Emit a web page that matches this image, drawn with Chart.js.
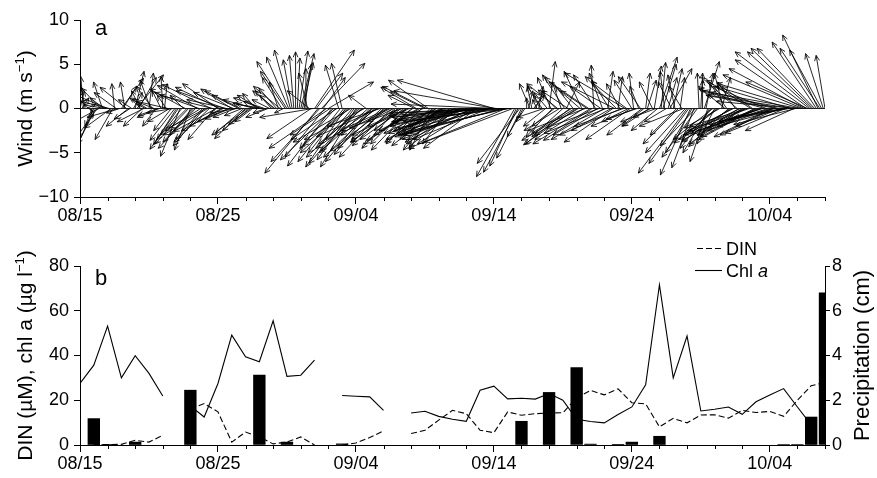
<!DOCTYPE html>
<html>
<head>
<meta charset="utf-8">
<script src="https://cdn.jsdelivr.net/npm/chart.js@4/dist/chart.umd.min.js"></script>
<style>
  html, body { margin: 0; padding: 0; background: #fff; }
  #wrap { position: relative; width: 877px; height: 478px; }
  #wind { position: absolute; left: 0; top: 0; width: 877px; height: 240px; }
  #water { position: absolute; left: 0; top: 240px; width: 877px; height: 238px; }
</style>
</head>
<body>
<div id="wrap">
  <canvas id="wind" width="877" height="240"></canvas>
  <canvas id="water" width="877" height="238"></canvas>
</div>
<script>
// ---- time axis ----
const dateLabels = ['08/15', '08/25', '09/04', '09/14', '09/24', '10/04'];
const dayCount = 54;              // 08/15 .. 10/08
const windStepDays = 0.125;       // 3-hourly wind record

// ---- wind components (m s-1), 8 readings per day, one row per day ----
const windU = [
  0.5, 0.8, -0.3, -0.5, 1.0, 0.5, 0.3, -0.8,
  -2.2, -2.0, -2.3, -2.8, -2.2, -1.0, -1.6, -2.5,
  -3.8, -3.2, -3.0, -2.0, -0.3, -2.5, -3.5, -1.5,
  2.5, 1.5, -0.5, -3.0, -2.5, -1.8, -1.5, 1.0,
  1.0, 3.0, 2.0, -1.0, -2.1, -3.0, -1.0, -2.0,
  0.5, -1.2, -1.8, -2.5, -1.5, -2.2, -2.5, -1.0,
  -0.2, 0.3, -1.0, -3.5, -2.5, -2.0, -3.0, -2.8,
  -2.6, -3.2, -2.2, -2.8, -1.5, -4.0, -3.0, -3.8,
  -1.8, -2.5, -3.5, -4.2, -4.5, -5.0, -4.0, -3.0,
  -3.5, -4.2, -5.0, -4.0, -5.5, -6.0, -3.0, -4.8,
  -4.0, -5.0, -4.5, -3.8, -5.5, -4.5, -3.5, -2.8,
  -3.5, -4.5, -2.5, -3.0, -3.0, -4.0, -2.0, -3.2,
  -3.5, -4.0, -3.0, -2.5, -2.0, -3.5, -1.5, -2.8,
  -2.5, -2.0, -3.0, -3.5, -1.5, -2.5, -2.0, -1.8,
  -1.5, -2.5, -2.0, -1.0, -3.0, -2.2, -1.0, -2.8,
  -3.4, -2.5, -1.8, -1.0, -0.5, 0.0, 0.3, 1.0,
  1.5, 1.2, 0.8, 0.0, -1.0, -2.5, -5.0, -6.0,
  4.5, 3.0, -6.0, -5.5, 4.9, 2.5, -4.5, -6.5,
  5.1, -4.5, -5.0, -6.0, -4.0, -5.2, -1.5, -4.8,
  -1.2, -4.0, -4.5, -5.0, -5.5, -6.5, -3.0, -4.2,
  -4.0, -5.5, -6.0, -4.5, -5.0, -6.8, -2.0, -5.5,
  -5.0, -4.2, -6.5, -5.8, -4.0, -7.0, -6.0, -5.0,
  -5.0, -6.2, -4.0, -5.5, -6.0, -4.5, -3.0, -5.0,
  -4.0, -5.5, -3.0, -6.0, -5.0, -4.0, -4.5, -6.5,
  -4.5, -5.5, -3.0, -4.0, -5.0, -6.0, -4.0, -5.0,
  -3.9, -5.0, -4.5, -3.0, -2.5, -5.5, -4.0, -6.0,
  -4.0, -5.5, -5.0, -6.5, -6.0, -4.5, -3.0, -7.0,
  -5.0, -6.0, -7.0, -5.5, -6.0, -7.5, -8.0, -6.5,
  -7.0, -8.5, -9.0, -7.5, -8.0, -6.5, -6.0, -9.0,
  -10.0, -9.5, -9.0, -10.5, -11.0, -8.5, -10.0, -11.5,
  -10.9, -11.5, -12.0, -12.5, -11.0, -10.5, -12.0, -11.0,
  -11.0, -13.0, -12.5, -10.0, -4.3, -3.0, -3.9, -4.8,
  -2.8, -1.8, -1.0, 0.0, 0.5, -1.2, -0.5, 1.2,
  1.0, -0.5, 0.5, -1.5, -1.0, -3.0, -2.5, -1.5,
  0.7, -1.5, -3.0, -2.5, -2.0, -3.5, -4.0, -1.0,
  -3.5, -2.5, 1.5, -3.0, -5.0, -4.5, -2.0, -6.0,
  -6.0, -5.0, -4.0, -2.0, -5.5, -6.5, -3.0, -4.5,
  -6.5, -5.5, -0.3, -2.5, -5.0, -6.0, -3.5, -1.5,
  -6.0, -7.0, 0.6, -2.0, -4.5, -5.5, -6.0, -3.5,
  0.5, -1.5, -7.0, -5.5, -6.8, -4.0, -3.0, -5.0,
  -2.0, -0.5, -5.0, -3.5, -1.0, -2.5, -4.0, -2.5,
  0.5, 1.0, -3.0, -2.0, -1.5, 0.8, -4.0, -3.0,
  2.0, 0.5, 1.5, -0.5, -2.5, 1.0, 2.5, -1.5,
  1.0, -0.8, -3.0, -4.0, 0.5, -1.5, -5.0, -4.5,
  -5.5, -4.5, -3.4, -3.0, -2.5, -4.0, -4.0, -0.2,
  0.2, 0.0, 1.7, 0.8, -2.0, -3.0, -3.5, -4.5,
  -2.0, -3.5, -5.0, -4.0, 1.0, -1.0, -3.0, -2.0,
  -4.5, -5.5, -6.0, -5.0, -2.0, -4.0, -4.0, -6.5,
  -6.0, -7.0, -5.5, -6.5, -7.0, -5.0, -3.5, -6.0,
  -6.5, -7.5, -7.0, -6.0, -5.0, -7.0, -6.0, -8.0,
  -7.0, -6.5, -6.0, -7.5, -8.0, -9.0, -5.0, -6.0,
  -7.5, -6.8, -6.0, -8.0, -8.5, -9.5, -5.5, -7.0,
  -9.2, -10.0, -9.5, -9.0, -8.5, -8.0, -7.0, -8.4,
  -7.2, -7.0, -6.5, -5.0, -4.0, -4.5, -3.6, -2.0,
  -1.0
];
const windV = [
  2.0, 1.2, 3.6, 2.5, 0.5, -0.3, -1.0, -2.0,
  -4.9, -4.0, -3.2, -1.5, 2.3, 3.0, 1.2, 0.4,
  1.6, 0.8, -2.2, -3.5, 2.8, 1.8, -1.0, -0.5,
  3.4, 2.5, 3.0, 2.4, -2.0, -1.2, 1.0, 1.8,
  4.2, 3.8, 3.5, 2.0, -2.0, -1.5, 0.5, 1.2,
  4.0, 3.2, 2.5, 1.0, -2.0, -0.8, -1.0, 2.0,
  3.6, 2.8, 1.5, 0.8, -1.5, -2.5, -0.5, -3.6,
  -4.1, -4.6, -5.4, -3.5, 1.5, 2.2, -3.0, -4.0,
  -4.7, -3.0, -3.8, -4.5, 2.6, 1.8, -2.5, -3.5,
  -4.2, -2.2, -3.0, -3.8, 2.7, 1.5, -3.5, -2.6,
  2.8, 2.4, -2.5, -2.0, 2.0, 1.0, -1.5, -1.2,
  2.2, 1.8, -1.0, -0.5, 1.5, 2.0, -0.8, -2.8,
  -3.4, -3.0, -2.5, -1.8, -1.5, 1.0, 1.7, 0.6,
  1.5, 0.8, 0.5, 1.2, -0.5, -1.0, 1.0, 2.0,
  1.5, 2.0, 2.3, 3.0, 2.5, 3.5, -0.5, 4.2,
  5.3, 5.8, 6.6, 5.5, 6.0, 6.4, 5.7, 6.5,
  6.2, 5.2, 5.0, 4.5, 4.0, 2.0, -3.4, -1.0,
  6.6, 4.0, -7.3, -6.0, 5.1, 3.5, -5.5, -4.5,
  3.0, -3.0, -6.5, -5.8, -4.5, -3.5, 4.9, -6.0,
  5.1, -5.0, -6.6, -4.2, -5.0, -3.8, -3.5, -5.8,
  -6.6, -6.2, -5.5, -4.8, -4.0, -3.5, 1.5, -5.0,
  -6.0, -5.2, -4.5, -5.5, -3.0, -3.2, -2.0, -4.5,
  -5.5, -4.8, -3.5, -2.5, -3.0, -4.2, -1.5, -3.8,
  -4.5, -3.8, -2.5, -2.2, -3.5, -4.0, -2.0, -3.0,
  -4.7, -4.0, 1.5, 2.4, -3.0, -3.6, -4.0, -2.5,
  1.9, 2.5, 3.2, -3.0, -4.7, -3.8, -3.5, -2.8,
  -4.7, -4.2, -3.0, -3.5, -1.5, -2.0, -4.0, -2.8,
  -3.5, -3.0, -2.5, -4.3, -4.0, -3.2, -1.0, -2.0,
  -3.0, -2.6, -2.0, -3.8, -3.5, -4.0, -4.5, -1.2,
  -1.5, -2.2, -3.0, -1.0, -0.5, -3.5, -2.5, -1.8,
  3.2, 2.0, 0.5, -0.8, -1.5, -2.8, -3.0, -4.5,
  -2.5, -1.5, -0.5, -3.8, -7.7, -6.5, -7.2, -6.2,
  -5.6, -3.2, -1.5, 1.2, 2.0, 2.8, 2.5, 1.5,
  2.0, 1.0, 2.5, 2.6, 1.5, -1.0, -2.0, 1.8,
  5.3, 3.5, -3.2, -2.0, 2.1, 2.8, -2.5, 3.0,
  -3.2, 3.8, 3.0, 2.0, -4.0, -2.8, 2.5, -3.6,
  -4.1, -3.0, 3.5, 4.2, -3.5, -2.5, 2.0, 3.0,
  -4.0, -3.6, 4.9, 3.8, -3.0, -2.2, 2.5, 4.0,
  -3.5, -2.8, 4.2, 3.2, -2.5, -3.8, 3.0, 3.6,
  3.6, 2.8, -3.0, -2.0, 4.0, 3.0, -1.5, -3.5,
  3.2, 4.0, -2.0, -1.2, 2.5, 3.6, -3.0, -2.0,
  4.0, 3.2, -2.0, -1.0, 3.0, 4.8, -1.5, -2.5,
  5.8, 5.2, 5.0, 4.2, -1.5, 3.5, 4.5, 3.0,
  4.5, 3.8, -3.0, -4.0, 3.5, 2.5, -2.0, -5.0,
  -7.3, -6.2, -7.5, -5.0, -6.7, -4.2, -5.5, 4.0,
  4.0, 3.2, 5.3, 4.0, -6.0, -5.0, -4.5, -3.5,
  -4.0, -3.0, -3.9, -2.2, 3.5, 4.0, 2.5, 3.0,
  -4.3, -3.8, -3.5, -2.5, 3.0, 3.5, -2.5, -3.0,
  -4.0, -3.6, -3.0, -2.0, -2.5, 3.2, 2.5, -3.2,
  -3.5, -2.8, -3.0, -2.2, -1.5, 2.0, 2.5, -2.5,
  -2.5, -3.2, -3.0, -1.8, 1.5, 2.2, -2.0, -1.2,
  -2.0, -2.8, -1.0, -1.5, 2.5, 1.5, -2.5, -1.8,
  0.8, 1.8, 2.85, 3.8, 4.5, 5.5, 3.0, 6.4,
  6.4, 6.8, 6.8, 7.5, 8.3, 6.8, 6.6, 6.2,
  6.0
];

// ---- daily water-column record ----
const days = [
  0, 1, 2, 3, 4, 5, 6, 7, 8, 9, 10, 11, 12, 13, 14, 15, 16, 17, 18, 19,
  20, 21, 22, 23, 24, 25, 26, 27, 28, 29, 30, 31, 32, 33, 34, 35, 36, 37, 38, 39,
  40, 41, 42, 43, 44, 45, 46, 47, 48, 49, 50, 51, 52, 53, 54
];
// chlorophyll a (ug l-1)
const chlA = [
  27.5, 35.7, 53.1, 30.0, 39.9, 32.0, 21.9, null, 17.5, 12.5,
  27.5, 49.1, 39.4, 37.2, 55.5, 30.7, 31.2, 37.9, null, 22.1,
  21.8, 21.5, 15.5, null, 14.3, 15.1, 12.8, 11.5, 10.6, 24.5,
  26.3, 20.6, 20.9, 20.5, 23.0, 20.0, 11.5, 10.5, 9.9, 13.6,
  17.0, 26.9, 71.6, 30.0, 48.7, 15.2, 16.0, 17.0, 13.7, 19.3,
  22.3, 25.2, 17.0, 9.0, null
];
// dissolved inorganic nitrogen (uM)
const din = [
  null, 0.3, 0.2, 0.3, 2.1, 1.3, 4.3, null, 16.0, 18.5,
  14.8, 1.3, 5.8, 3.6, 0.5, 1.3, 3.6, 0.0, null, 0.0,
  0.9, 3.3, 6.3, null, 5.1, 6.6, 11.1, 15.5, 14.0, 6.6,
  5.5, 14.8, 13.3, 14.0, 14.3, 14.4, 21.0, 24.4, 22.4, 25.1,
  18.9, 18.4, 8.1, 11.9, 9.9, 13.4, 13.5, 12.0, 15.5, 14.5,
  15.0, 12.8, 20.0, 26.5, 28.0
];
// daily precipitation (cm)
const precip = [
  null, 1.18, 0.03, null, 0.13, null, null, null, 2.45, null,
  null, null, null, 3.12, null, 0.13, null, null, null, 0.05,
  null, null, null, null, null, null, null, null, null, null,
  null, null, 1.06, null, 2.35, null, 3.46, 0.04, null, 0.03,
  0.13, null, 0.39, null, null, null, null, null, null, null,
  null, 0.02, 0.02, 1.25, 6.8
];

// ---- shared styling ----
const FAMILY = '"Liberation Sans", Arial, Helvetica, sans-serif';
const INK = '#000';
const tickFont = { family: FAMILY, size: 18 };

// text made of runs: [string, 'n' | 's' (superscript) | 'i' (italic)]
function drawRuns(ctx, runs, x, y, size, align) {
  const fontOf = r => (r[1] === 'i' ? 'italic ' : '') +
    (r[1] === 's' ? Math.round(size * 0.62) : size) + 'px ' + FAMILY;
  const widths = runs.map(r => { ctx.font = fontOf(r); return ctx.measureText(r[0]).width; });
  const total = widths.reduce((a, b) => a + b, 0);
  let cx = align === 'center' ? x - total / 2 : x;
  ctx.textAlign = 'left';
  ctx.textBaseline = 'alphabetic';
  runs.forEach((r, i) => {
    ctx.font = fontOf(r);
    ctx.fillText(r[0], cx, r[1] === 's' ? y - size * 0.38 : y);
    cx += widths[i];
  });
}

function drawVerticalTitle(ctx, runs, cx, cy, size) {
  ctx.save();
  ctx.translate(cx, cy);
  ctx.rotate(-Math.PI / 2);
  ctx.fillStyle = INK;
  drawRuns(ctx, runs, 0, size * 0.36, size, 'center');
  ctx.restore();
}

// short ticks between the labelled dates
const minorTicks = {
  id: 'minorTicks',
  afterDraw(chart) {
    const { ctx, scales: { x }, chartArea: a } = chart;
    ctx.save();
    ctx.strokeStyle = INK;
    ctx.lineWidth = 1;
    ctx.beginPath();
    for (let d = 0; d <= dayCount; d += 2) {
      if (d % 10 === 0) continue;
      const px = Math.round(x.getPixelForValue(d)) + 0.5;
      ctx.moveTo(px, a.bottom);
      ctx.lineTo(px, a.bottom + 4);
    }
    ctx.stroke();
    ctx.restore();
  }
};

const xScale = {
  type: 'linear',
  min: 0,
  max: dayCount,
  offset: false,
  ticks: {
    stepSize: 2,
    autoSkip: false,
    maxRotation: 0,
    padding: 1,
    color: INK,
    font: tickFont,
    callback: v => (v % 10 === 0 ? dateLabels[v / 10] : '')
  },
  grid: {
    drawOnChartArea: false,
    tickLength: 7,
    offset: false,
    tickColor: c => (c.tick && c.tick.value % 10 === 0 ? INK : 'rgba(0,0,0,0)')
  },
  border: { color: INK, width: 1 }
};

// ---- panel a: wind sticks ----
const windSticks = {
  id: 'windSticks',
  afterDatasetsDraw(chart) {
    const { ctx, chartArea: a, scales: { x, y } } = chart;
    const y0 = y.getPixelForValue(0);
    ctx.save();
    ctx.beginPath();
    ctx.rect(a.left, a.top - 4, a.right - a.left, a.bottom - a.top + 4);
    ctx.clip();
    ctx.strokeStyle = INK;
    ctx.lineWidth = 0.85;
    ctx.beginPath();
    ctx.moveTo(a.left, y0);
    ctx.lineTo(a.right, y0);
    ctx.stroke();
    for (let i = 0; i < windU.length; i++) {
      const bx = x.getPixelForValue(i * windStepDays);
      // u is laid off horizontally at the same pixels-per-m/s as the y axis
      const tx = bx + (y0 - y.getPixelForValue(windU[i]));
      const ty = y.getPixelForValue(windV[i]);
      const ang = Math.atan2(ty - y0, tx - bx);
      const len = Math.hypot(tx - bx, ty - y0);
      const h = Math.min(6, len * 0.45);
      ctx.beginPath();
      ctx.moveTo(bx, y0);
      ctx.lineTo(tx, ty);
      ctx.moveTo(tx - h * Math.cos(ang - 0.42), ty - h * Math.sin(ang - 0.42));
      ctx.lineTo(tx, ty);
      ctx.lineTo(tx - h * Math.cos(ang + 0.42), ty - h * Math.sin(ang + 0.42));
      ctx.stroke();
    }
    ctx.restore();
  }
};

const windText = {
  id: 'windText',
  afterDraw(chart) {
    const { ctx, chartArea: a } = chart;
    drawVerticalTitle(ctx, [['Wind (m s', 'n'], ['\u22121', 's'], [')', 'n']],
      24, (a.top + a.bottom) / 2, 21);
    ctx.save();
    ctx.fillStyle = INK;
    drawRuns(ctx, [['a', 'n']], 95, 35, 22, 'left');
    ctx.restore();
  }
};

new Chart(document.getElementById('wind'), {
  type: 'scatter',
  data: { datasets: [{ data: [], pointRadius: 0 }] },
  options: {
    responsive: false,
    animation: false,
    events: [],
    layout: { padding: { top: 20, right: 52, left: 0, bottom: 0 } },
    plugins: { legend: { display: false }, tooltip: { enabled: false } },
    scales: {
      x: Object.assign({}, xScale, { afterFit: s => { s.height = 43; } }),
      y: {
        min: -10,
        max: 10,
        ticks: {
          stepSize: 5,
          padding: 5,
          color: INK,
          font: tickFont,
          callback: v => String(v).replace('-', '\u2212')
        },
        grid: { drawOnChartArea: false, tickLength: 6, tickColor: INK },
        border: { color: INK, width: 1 },
        afterFit: s => { s.width = 80; }
      }
    }
  },
  plugins: [windSticks, minorTicks, windText]
});

// ---- panel b: DIN, chl a and precipitation ----
const toPoints = arr => days.map((d, i) => ({ x: d, y: arr[i] }));

const waterText = {
  id: 'waterText',
  afterDraw(chart) {
    const { ctx, chartArea: a } = chart;
    const mid = (a.top + a.bottom) / 2;
    drawVerticalTitle(ctx,
      [['DIN (\u00B5M), chl a (\u00B5g l', 'n'], ['\u22121', 's'], [')', 'n']],
      24, mid, 21);
    drawVerticalTitle(ctx, [['Precipitation (cm)', 'n']], 861, mid, 22);
    ctx.save();
    ctx.fillStyle = INK;
    drawRuns(ctx, [['b', 'n']], 95, 45, 22, 'left');
    // legend
    ctx.strokeStyle = INK;
    ctx.lineWidth = 1.1;
    ctx.setLineDash([6, 3]);
    ctx.beginPath();
    ctx.moveTo(697, 8.5);
    ctx.lineTo(722, 8.5);
    ctx.stroke();
    ctx.setLineDash([]);
    ctx.beginPath();
    ctx.moveTo(695, 30.5);
    ctx.lineTo(722, 30.5);
    ctx.stroke();
    drawRuns(ctx, [['DIN', 'n']], 726, 8.5 + 6.5, 18, 'left');
    drawRuns(ctx, [['Chl ', 'n'], ['a', 'i']], 726, 30.5 + 6.5, 18, 'left');
    ctx.restore();
  }
};

new Chart(document.getElementById('water'), {
  type: 'line',
  data: {
    datasets: [
      {
        type: 'bar',
        label: 'Precipitation',
        data: toPoints(precip).filter(p => p.y !== null),
        yAxisID: 'y2',
        backgroundColor: INK,
        borderWidth: 0,
        barThickness: 11.7,
        order: 0
      },
      {
        label: 'Chl a',
        data: toPoints(chlA),
        yAxisID: 'y',
        borderColor: INK,
        borderWidth: 1.1,
        pointRadius: 0,
        tension: 0,
        spanGaps: false,
        order: 1
      },
      {
        label: 'DIN',
        data: toPoints(din),
        yAxisID: 'y',
        borderColor: INK,
        borderWidth: 1.1,
        borderDash: [6, 3],
        pointRadius: 0,
        tension: 0,
        spanGaps: false,
        order: 2
      }
    ]
  },
  options: {
    responsive: false,
    animation: false,
    events: [],
    layout: { padding: { top: 26, right: 0, left: 0, bottom: 0 } },
    plugins: { legend: { display: false }, tooltip: { enabled: false } },
    scales: {
      x: Object.assign({}, xScale, { afterFit: s => { s.height = 33; } }),
      y: {
        position: 'left',
        min: 0,
        max: 80,
        ticks: { stepSize: 20, padding: 5, color: INK, font: tickFont },
        grid: { drawOnChartArea: false, tickLength: 6, tickColor: INK },
        border: { color: INK, width: 1 },
        afterFit: s => { s.width = 80; }
      },
      y2: {
        position: 'right',
        min: 0,
        max: 8,
        ticks: { stepSize: 2, padding: 2, color: INK, font: tickFont },
        grid: { drawOnChartArea: false, tickLength: 5, tickColor: INK },
        border: { color: INK, width: 1 },
        afterFit: s => { s.width = 52; }
      }
    }
  },
  plugins: [minorTicks, waterText]
});
</script>
</body>
</html>
